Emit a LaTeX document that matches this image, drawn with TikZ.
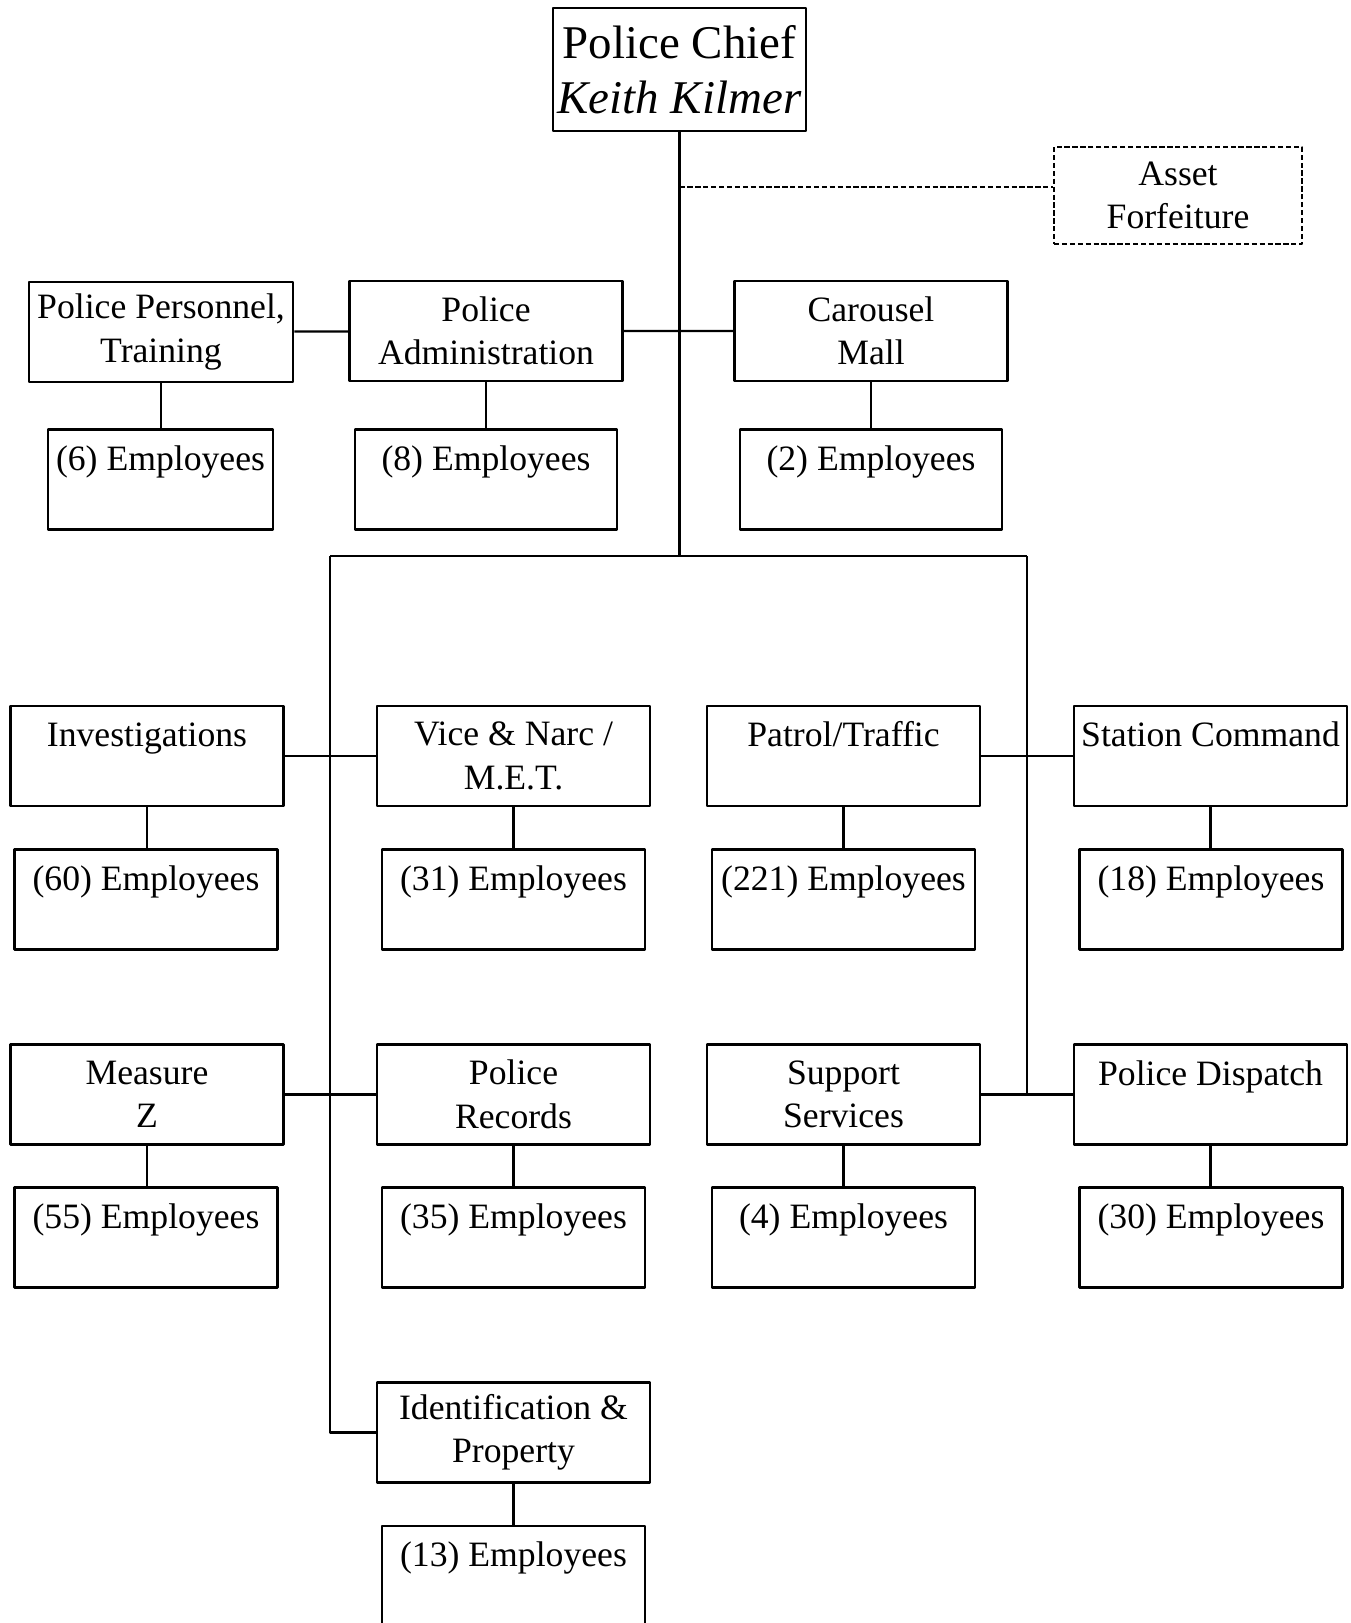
\documentclass[tikz,border=0pt]{standalone}
\usepackage{fontspec}
\setmainfont{Liberation Serif}
\begin{document}
\begin{tikzpicture}[x=0.02cm, y=-0.02cm, line join=round,
		font=\fontsize{20.3}{24.75}\selectfont,
		unit/.style={draw, line width=1.5pt, minimum width=5.46cm, minimum height=2cm, align=center, inner sep=0pt},
		staff/.style={unit, minimum width=5.26cm},
		link/.style={line width=1.3pt},
		dashline/.style={line width=1.4pt, dash pattern=on 3pt off 1.5pt}]
		\useasboundingbox (0,0) rectangle (1351,1623);
		% top
		\node[unit, minimum width=5.06cm, minimum height=2.46cm, font=\fontsize{26.7}{31.3}\selectfont] (chief) at (679.5,69.5) {Police Chief\\ \textit{Keith Kilmer}};
		\node[unit, dashline, minimum width=4.96cm, minimum height=1.94cm] (asset) at (1178,195.5) {Asset\\ Forfeiture};
		\node[unit, minimum width=5.28cm] (pers) at (161,332) {Police Personnel,\\ Training};
		\node[unit] (admin) at (486,331) {Police\\ Administration};
		\node[unit] (mall) at (871,331) {Carousel\\ Mall};
		\node[staff, minimum width=4.5cm] (e6) at (160.5,479.5) {(6) Employees\\ ~};
		\node[staff, minimum width=5.24cm] (e8) at (486,479.5) {(8) Employees\\ ~};
		\node[staff, minimum width=5.24cm] (e2) at (871,479.5) {(2) Employees\\ ~};
		% divisions
		\node[unit] (inv) at (147,756) {Investigations\\ ~};
		\node[unit] (vice) at (513.5,756) {Vice \& Narc /\\ M.E.T.};
		\node[unit] (patrol) at (843.5,756) {Patrol/Traffic\\ ~};
		\node[unit] (station) at (1210.5,756) {Station Command\\ ~};
		\node[staff] (e60) at (146,899.5) {(60) Employees\\ ~};
		\node[staff] (e31) at (513.5,899.5) {(31) Employees\\ ~};
		\node[staff] (e221) at (843.5,899.5) {(221) Employees\\ ~};
		\node[staff] (e18) at (1211,899.5) {(18) Employees\\ ~};
		\node[unit] (mz) at (147,1094.5) {Measure\\ Z};
		\node[unit] (rec) at (513.5,1094.5) {Police\\ Records};
		\node[unit] (sup) at (843.5,1094.5) {Support\\ Services};
		\node[unit] (disp) at (1210.5,1094.5) {Police Dispatch\\ ~};
		\node[staff] (e55) at (146,1237.5) {(55) Employees\\ ~};
		\node[staff] (e35) at (513.5,1237.5) {(35) Employees\\ ~};
		\node[staff] (e4) at (843.5,1237.5) {(4) Employees\\ ~};
		\node[staff] (e30) at (1211,1237.5) {(30) Employees\\ ~};
		\node[unit] (idp) at (513.5,1432.5) {Identification \&\\ Property};
		\node[staff] (e13) at (513.5,1576) {(13) Employees\\ ~};
		% lines
		\coordinate (aj) at (679.5,187);
		\coordinate (busL) at (330,556);
		\coordinate (busR) at (1027,556);
		\draw[link] (chief.south) -- (chief |- busL);
		\draw[dashline] (aj) -- (aj -| asset.west);
		\draw[link] (pers) -- (admin) (admin) -- (mall);
		\draw[link] (busL) -- (busR);
		\draw[link] (busL) |- (idp.west);
		\draw[link] (busR) -- (busR |- disp.west);
		\draw[link] (inv) -- (vice) (patrol) -- (station) (mz) -- (rec) (sup) -- (disp);
		\foreach \a/\b in {pers/e6, admin/e8, mall/e2, inv/e60, vice/e31, patrol/e221, station/e18, mz/e55, rec/e35, sup/e4, disp/e30, idp/e13}
			\draw[link] (\a.south) -- (\a.south |- \b.north);
	\end{tikzpicture}
\end{document}
